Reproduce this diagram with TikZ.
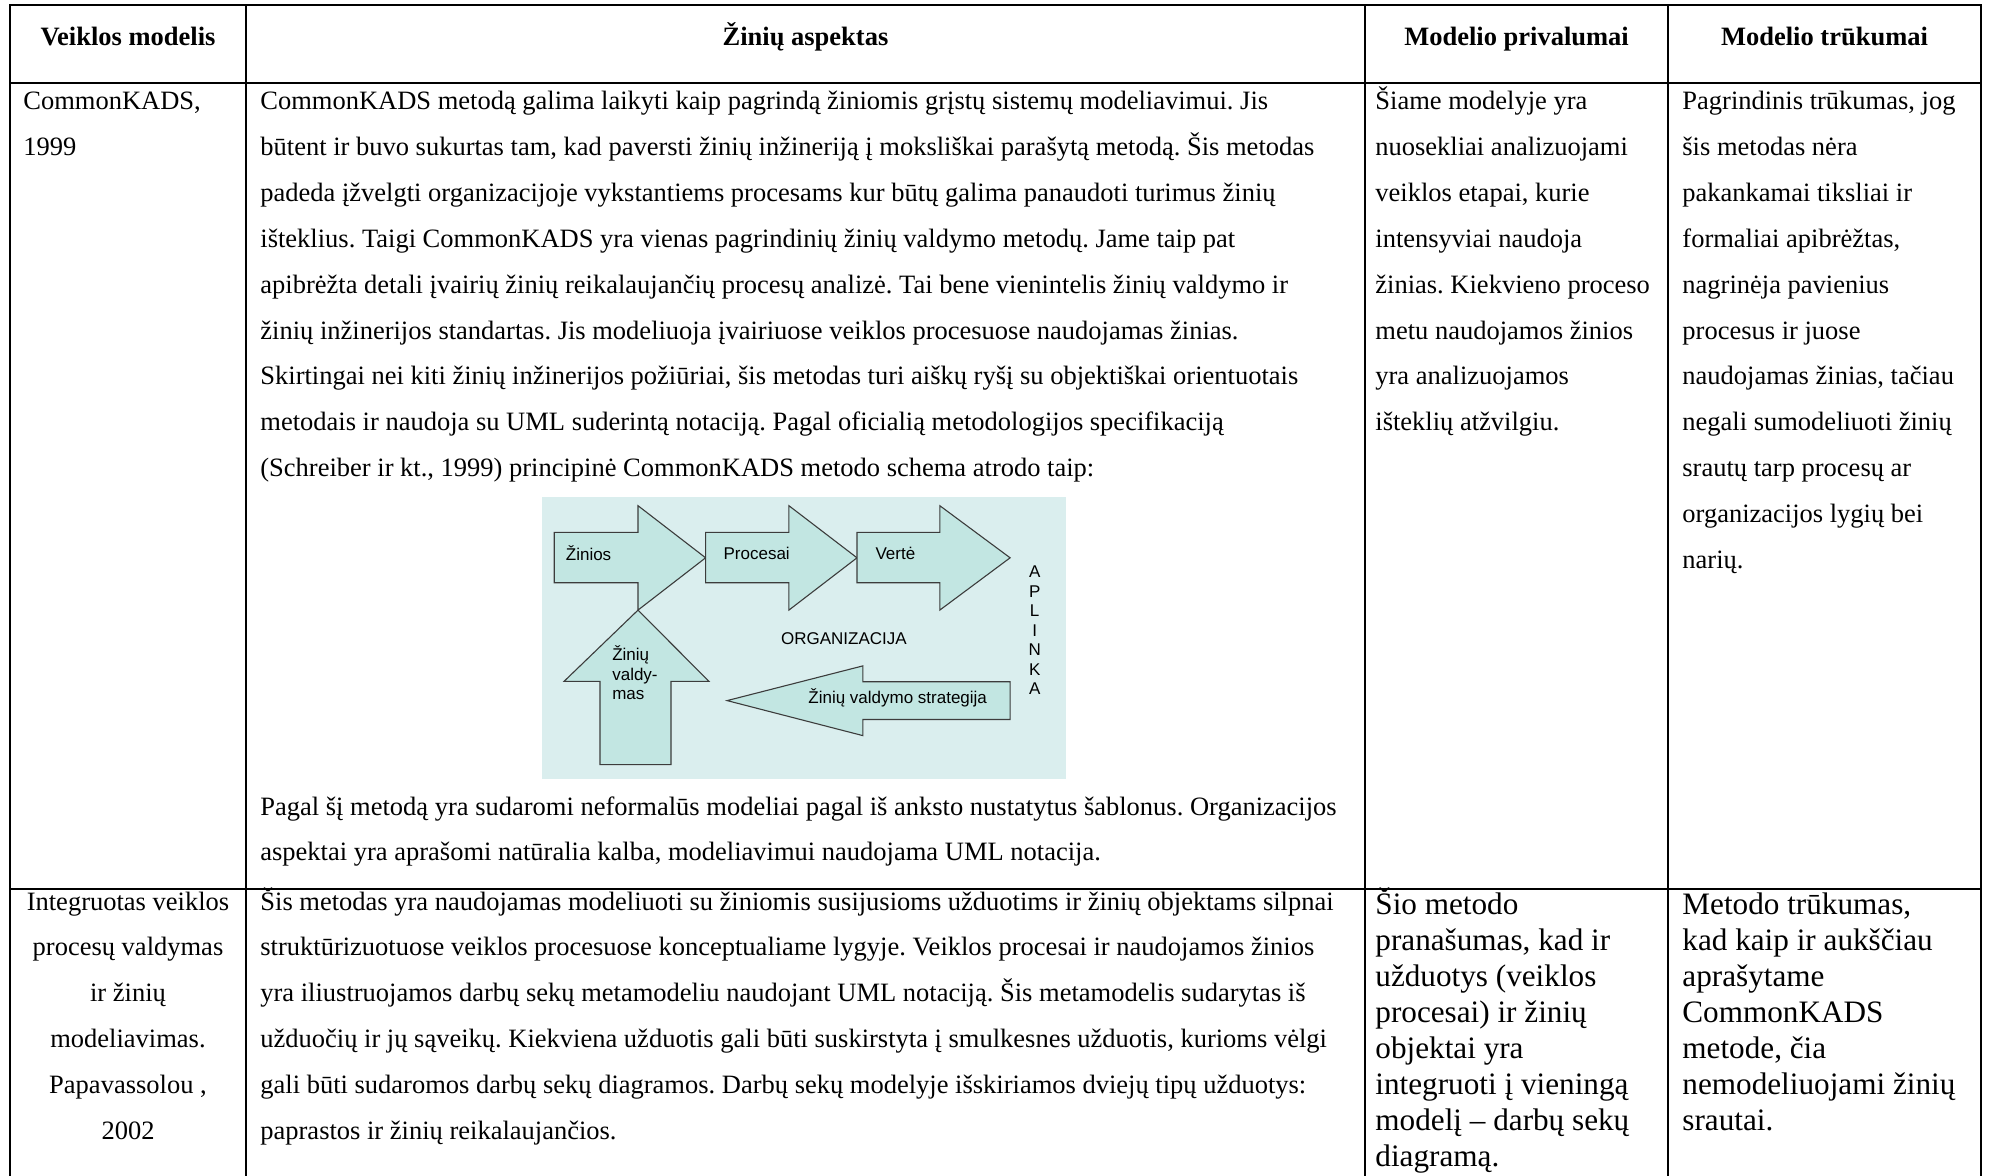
\documentclass[tikz,border=0pt]{standalone}
\usepackage{fontspec}
\setmainfont{Liberation Serif}
\newfontfamily\diagfont{Liberation Sans}
\frenchspacing
\definecolor{diagbg}{RGB}{218,238,238}
\definecolor{arrowfill}{RGB}{194,230,226}
\definecolor{arrowline}{RGB}{60,60,60}

% place a list of lines, one node per line, with fixed baseline distance
\newcommand\putlines[6]{%
  \foreach \ln [count=\k] in {#6} {
    \node[#5] (#1-\k) at (#2, {#3+(\k-1)*#4}) {\ln};
  }%
}

\begin{document}
\begin{tikzpicture}[x=0.5pt,y=-0.5pt,
  grid/.style={line width=1.3pt, line cap=rect},
  body/.style={font=\fontsize{13.25pt}{16pt}\selectfont, inner sep=0pt, anchor=base west},
  bodyc/.style={body, anchor=base},
  big/.style={font=\fontsize{15.6pt}{18pt}\selectfont, inner sep=0pt, anchor=base west},
  head/.style={font=\fontsize{13.25pt}{16pt}\selectfont\bfseries, inner sep=0pt, anchor=base},
  flow/.style={draw=arrowline, fill=arrowfill, line width=0.55pt, line join=miter},
  dlabel/.style={font=\diagfont\fontsize{8.5pt}{10pt}\selectfont, inner sep=0pt, anchor=base west},
]
\fill[white] (0,0) rectangle (1989,1176);
\useasboundingbox (0,0) rectangle (1989,1176);

% ---------- table rules ----------
\draw[grid] (10,1200) -- (10,5) -- (1981,5) -- (1981,1200);
\draw[grid] (10,83) -- (1981,83);
\draw[grid] (10,889) -- (1981,889);
\draw[grid] (246,5) -- (246,1200);
\draw[grid] (1365,5) -- (1365,1200);
\draw[grid] (1668,5) -- (1668,1200);

% ---------- header ----------
\node[head] (h1) at (128,46) {Veiklos modelis};
\node[head] (h2) at (805.5,46) {Žinių aspektas};
\node[head] (h3) at (1516.5,46) {Modelio privalumai};
\node[head] (h4) at (1824.5,46) {Modelio trūkumai};

% ---------- row 1 ----------
\putlines{ra}{23}{110}{45.8}{body}{{CommonKADS,},{1999}}
\putlines{rb}{260}{110}{45.8}{body}{%
{CommonKADS metodą galima laikyti kaip pagrindą žiniomis grįstų sistemų modeliavimui. Jis},
{būtent ir buvo sukurtas tam, kad paversti žinių inžineriją į moksliškai parašytą metodą. Šis metodas},
{padeda įžvelgti organizacijoje vykstantiems procesams kur būtų galima panaudoti turimus žinių},
{išteklius. Taigi CommonKADS yra vienas pagrindinių žinių valdymo metodų. Jame taip pat},
{apibrėžta detali įvairių žinių reikalaujančių procesų analizė. Tai bene vienintelis žinių valdymo ir},
{žinių inžinerijos standartas. Jis modeliuoja įvairiuose veiklos procesuose naudojamas žinias.},
{Skirtingai nei kiti žinių inžinerijos požiūriai, šis metodas turi aiškų ryšį su objektiškai orientuotais},
{metodais ir naudoja su UML suderintą notaciją. Pagal oficialią metodologijos specifikaciją},
{(Schreiber ir kt., 1999) principinė CommonKADS metodo schema atrodo taip:}}
\putlines{rc}{260}{815}{45.8}{body}{%
{Pagal šį metodą yra sudaromi neformalūs modeliai pagal iš anksto nustatytus šablonus. Organizacijos},
{aspektai yra aprašomi natūralia kalba, modeliavimui naudojama UML notacija.}}
\putlines{rd}{1375}{110}{45.8}{body}{%
{Šiame modelyje yra},{nuosekliai analizuojami},{veiklos etapai, kurie},{intensyviai naudoja},
{žinias. Kiekvieno proceso},{metu naudojamos žinios},{yra analizuojamos},{išteklių atžvilgiu.}}
\putlines{re}{1682}{110}{45.8}{body}{%
{Pagrindinis trūkumas, jog},{šis metodas nėra},{pakankamai tiksliai ir},{formaliai apibrėžtas,},
{nagrinėja pavienius},{procesus ir juose},{naudojamas žinias, tačiau},{negali sumodeliuoti žinių},
{srautų tarp procesų ar},{organizacijos lygių bei},{narių.}}

% ---------- CommonKADS scheme ----------
\fill[diagbg] (541.6,497) rectangle (1065.6,779);
\draw[flow] (554.2,532.3) -- (638,532.3) -- (638,505.7) -- (705.6,557.8) -- (638,610.1) -- (638,582.7) -- (554.2,582.7) -- cycle;
\draw[flow] (705.6,532.3) -- (788.9,532.3) -- (788.9,505.7) -- (857,557.8) -- (788.9,610.1) -- (788.9,582.7) -- (705.6,582.7) -- cycle;
\draw[flow] (857,532.3) -- (939.8,532.3) -- (939.8,505.7) -- (1010.1,557.8) -- (939.8,610.1) -- (939.8,582.7) -- (857,582.7) -- cycle;
\draw[flow] (638,610.1) -- (709,681.4) -- (671,681.4) -- (671,764.6) -- (600,764.6) -- (600,681.4) -- (564,681.4) -- cycle;
\draw[flow] (727.1,700.6) -- (862.8,665.9) -- (862.8,681.7) -- (1010.1,681.7) -- (1010.1,719.5) -- (862.8,719.5) -- (862.8,735.6) -- cycle;

\node[dlabel] (lz) at (565.5,560.5) {Žinios};
\node[dlabel] (lp) at (723.2,559.5) {Procesai};
\node[dlabel] (lv) at (875.1,559.5) {Vertė};
\node[dlabel] (lk1) at (611.9,660) {Žinių};
\node[dlabel] (lk2) at (611.9,680) {valdy-};
\node[dlabel] (lk3) at (611.9,699) {mas};
\node[dlabel] (ls) at (808,703) {Žinių valdymo strategija};
\node[dlabel, anchor=base] (lo) at (843.9,644) {ORGANIZACIJA};
\foreach \c [count=\k] in {A,P,L,I,N,K,A}
  \node[dlabel, anchor=base] (la-\k) at (1034.7,{577.7+(\k-1)*19.5}) {\c};

% ---------- row 2 ----------
\putlines{sa}{128}{910}{45.8}{bodyc}{%
{Integruotas veiklos},{procesų valdymas},{ir žinių},{modeliavimas.},{Papavassolou ,},{2002}}
\putlines{sb}{260}{910}{45.8}{body}{%
{Šis metodas yra naudojamas modeliuoti su žiniomis susijusioms užduotims ir žinių objektams silpnai},
{struktūrizuotuose veiklos procesuose konceptualiame lygyje. Veiklos procesai ir naudojamos žinios},
{yra iliustruojamos darbų sekų metamodeliu naudojant UML notaciją. Šis metamodelis sudarytas iš},
{užduočių ir jų sąveikų. Kiekviena užduotis gali būti suskirstyta į smulkesnes užduotis, kurioms vėlgi},
{gali būti sudaromos darbų sekų diagramos. Darbų sekų modelyje išskiriamos dviejų tipų užduotys:},
{paprastos ir žinių reikalaujančios.}}
\putlines{sc}{1375}{914}{36}{big}{%
{Šio metodo},{pranašumas, kad ir},{užduotys (veiklos},{procesai) ir žinių},{objektai yra},
{integruoti į vieningą},{modelį – darbų sekų},{diagramą.}}
\putlines{sd}{1682}{914}{36}{big}{%
{Metodo trūkumas,},{kad kaip ir aukščiau},{aprašytame},{CommonKADS},{metode, čia},
{nemodeliuojami žinių},{srautai.}}
\end{tikzpicture}
\end{document}
